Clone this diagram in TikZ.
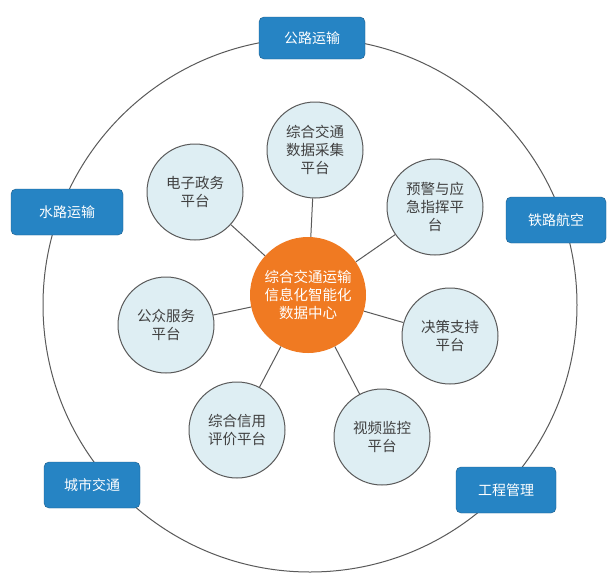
\documentclass[tikz,border=0pt]{standalone}
\usepackage{fontspec}
\newfontfamily\cjk{Noto Sans CJK SC}
\definecolor{boxblue}{RGB}{38,132,196}
\definecolor{lightc}{RGB}{222,238,243}
\definecolor{orangec}{RGB}{240,122,34}
\definecolor{linec}{RGB}{90,90,90}
\begin{document}
\begin{tikzpicture}[x=1pt,y=-1pt,
  outerbox/.style={draw=boxblue!70!black,fill=boxblue,rounded corners=5pt,minimum width=100pt,minimum height=42pt,text=white,font=\cjk\fontsize{14}{16}\selectfont},
  plat/.style={circle,draw=linec,line width=1pt,fill=lightc,minimum size=96pt,inner sep=0pt,align=center,text=black!75,font=\cjk\fontsize{14.5}{18}\selectfont},
  hub/.style={circle,fill=orangec,minimum size=116pt,inner sep=0pt,align=center,text=white,font=\cjk\fontsize{14.5}{18}\selectfont},
  spoke/.style={draw=linec,line width=1pt}]
\useasboundingbox (0,0) rectangle (614,574);
\fill[white] (0,0) rectangle (614,574);
\node[circle,draw=linec,line width=1pt,minimum size=534pt,inner sep=0pt] (ring) at (310,305) {};
\node[hub] (c) at (308,295) {综合交通运输\\信息化智能化\\数据中心};
\node[plat] (p1) at (315,150) {综合交通\\数据采集\\平台};
\node[plat] (p2) at (195,192) {电子政务\\平台};
\node[plat] (p3) at (435,207) {预警与应\\急指挥平\\台};
\node[plat] (p4) at (166,325) {公众服务\\平台};
\node[plat] (p5) at (450,336) {决策支持\\平台};
\node[plat] (p6) at (237,430) {综合信用\\评价平台};
\node[plat] (p7) at (382,437) {视频监控\\平台};
\foreach \p in {p1,p2,p3,p4,p5,p6,p7}{\draw[spoke] (c) -- (\p);}
\node[outerbox,minimum width=106pt] (b1) at (312,38) {公路运输};
\node[outerbox,minimum width=112pt,minimum height=46pt] (b2) at (67,212) {水路运输};
\node[outerbox,minimum width=100pt,minimum height=46pt] (b3) at (556,220) {铁路航空};
\node[outerbox,minimum width=96pt,minimum height=46pt] (b4) at (92,485) {城市交通};
\node[outerbox,minimum width=100pt,minimum height=46pt] (b5) at (506,490) {工程管理};
\end{tikzpicture}
\end{document}
